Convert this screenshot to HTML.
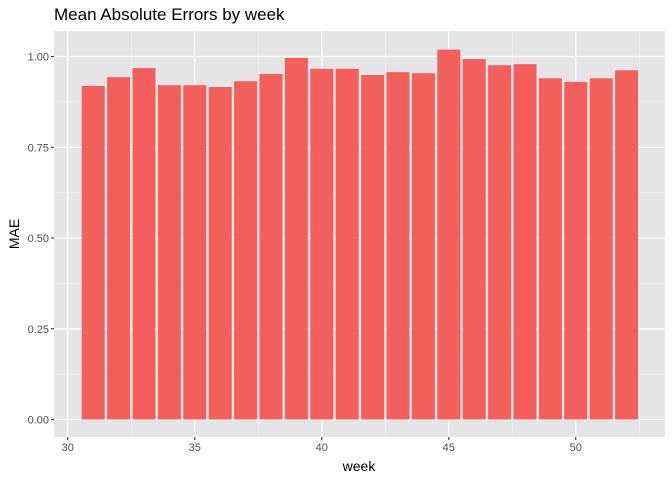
<!DOCTYPE html>
<html><head><meta charset="utf-8"><style>
body{margin:0;background:#fff;font-family:"Liberation Sans",sans-serif}
</style></head><body>
<svg id="chart" width="672" height="480" xmlns="http://www.w3.org/2000/svg">
<text x="54" y="20" font-size="17" fill="#000">Mean Absolute Errors by week</text>
<rect x="54" y="31" width="611" height="406" fill="#e5e5e5"/>
<g id="grid"></g><g id="bars"></g><g id="axes"></g>
<text x="359" y="471" font-size="14" text-anchor="middle">week</text>
<text transform="translate(19,234) rotate(-90)" font-size="14" text-anchor="middle">MAE</text>
</svg>
<script>
const weeks=[31,32,33,34,35,36,37,38,39,40,41,42,43,44,45,46,47,48,49,50,51,52];
const mae=[0.919,0.943,0.968,0.921,0.921,0.916,0.932,0.952,0.996,0.966,0.966,0.949,0.957,0.954,1.019,0.993,0.976,0.979,0.94,0.93,0.94,0.962];
const xTicks=[30,35,40,45,50];
const yTicks=[0,0.25,0.5,0.75,1];
const yLabels=["0.00","0.25","0.50","0.75","1.00"];
const NS="http://www.w3.org/2000/svg";
const X=v=>67.8+(v-30)*25.4;
const Y=v=>419.5-v*363;
const L=54,R=665,T=31,B=437;
function mk(tag,attrs,parent){const e=document.createElementNS(NS,tag);for(const k in attrs)e.setAttribute(k,attrs[k]);document.getElementById(parent).appendChild(e);return e;}
for(let i=0;i<yTicks.length-1;i++){const m=(yTicks[i]+yTicks[i+1])/2;
const g=mk('line',{x1:L,x2:R,y1:Y(m),y2:Y(m),stroke:'#f2f2f2','stroke-width':0.6},'grid');

}
for(let i=0;i<xTicks.length;i++){const m=xTicks[i]+2.5;
const g=mk('line',{x1:X(m),x2:X(m),y1:T,y2:B,stroke:'#f2f2f2','stroke-width':0.6},'grid');

}
yTicks.forEach((t,i)=>{
const g=mk('line',{x1:L,x2:R,y1:Y(t),y2:Y(t),stroke:'#fff','stroke-width':1.2},'grid');


const k=mk('line',{x1:L-3,x2:L,y1:Y(t),y2:Y(t),stroke:'#333','stroke-width':1.1},'axes');


const tx=mk('text',{x:L-5,y:Y(t)+4,'font-size':11,fill:'#4d4d4d','text-anchor':'end'},'axes');
tx.textContent=yLabels[i];

});
xTicks.forEach(t=>{
const g=mk('line',{x1:X(t),x2:X(t),y1:T,y2:B,stroke:'#fff','stroke-width':1.2},'grid');


const k=mk('line',{x1:X(t),x2:X(t),y1:B,y2:B+3,stroke:'#333','stroke-width':1.1},'axes');


const tx=mk('text',{x:X(t),y:B+14,'font-size':11,fill:'#4d4d4d','text-anchor':'middle'},'axes');
tx.textContent=t;

});
weeks.forEach((w,i)=>{
const b=mk('rect',{x:X(w)-11.5,width:23,y:Y(mae[i]),height:Y(0)-Y(mae[i]),fill:'#f35f5a'},'bars');

});
</script>
</body></html>
